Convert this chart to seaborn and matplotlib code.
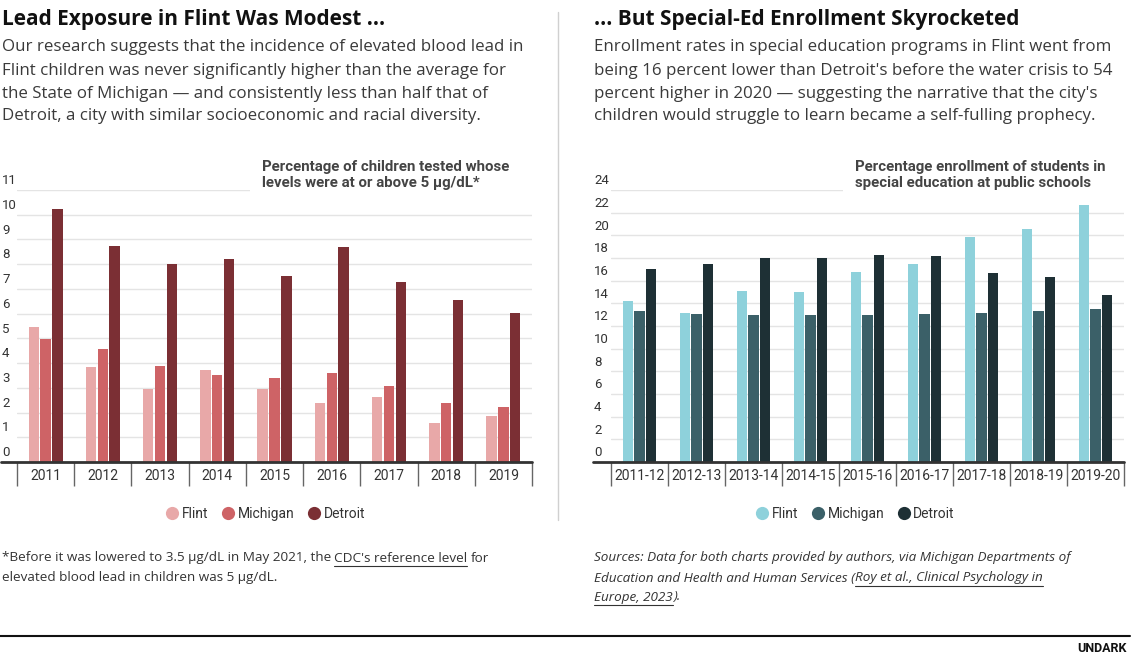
import matplotlib
matplotlib.use("Agg")
import matplotlib.pyplot as plt
import matplotlib.transforms as mtransforms
from matplotlib.lines import Line2D
from matplotlib.patches import Rectangle
import numpy as np
import pandas as pd
import seaborn as sns

# Data
cities = ["Flint", "Michigan", "Detroit"]

lead_years = ["2011", "2012", "2013", "2014", "2015", "2016", "2017", "2018", "2019"]
lead_flint = [5.44, 3.86, 2.96, 3.73, 2.96, 2.37, 2.64, 1.56, 1.87]
lead_michigan = [4.99, 4.59, 3.88, 3.53, 3.41, 3.60, 3.06, 2.38, 2.23]
lead_detroit = [10.23, 8.74, 8.02, 8.21, 7.54, 8.70, 7.28, 6.54, 6.01]

sped_years = ["2011-12", "2012-13", "2013-14", "2014-15", "2015-16",
              "2016-17", "2017-18", "2018-19", "2019-20"]
sped_flint = [14.22, 13.13, 15.10, 15.01, 16.73, 17.43, 19.82, 20.53, 22.71]
sped_michigan = [13.33, 13.04, 12.95, 12.95, 12.95, 13.04, 13.13, 13.33, 13.51]
sped_detroit = [17.02, 17.43, 18.02, 18.02, 18.23, 18.14, 16.64, 16.34, 14.72]

lead_ticks = list(range(0, 12))
sped_ticks = list(range(0, 26, 2))

lead_colors = ["#E8A8A8", "#CE6366", "#7B2F34"]
sped_colors = ["#8ED1DB", "#3B6068", "#1E3035"]

W, H = 1137, 660
CHART_FONT = ["Roboto", "DejaVu Sans"]
TEXT_FONT = ["Open Sans", "DejaVu Sans"]


def long_df(years, flint, michigan, detroit):
    rows = []
    for city, vals in zip(cities, [flint, michigan, detroit]):
        for y, v in zip(years, vals):
            rows.append({"year": y, "city": city, "value": v})
    return pd.DataFrame(rows)


def fx(x):
    return x / W


def fy(y):
    return 1 - y / H


sns.set_theme(style="white")
plt.rcParams["font.family"] = CHART_FONT

fig = plt.figure(figsize=(W / 100, H / 100), dpi=100)
fig.patch.set_facecolor("white")


def draw_panel(left_px, right_px, df, colors, ticks, ymax, label_x, subtitle, sub_x):
    ax = fig.add_axes([fx(left_px), fy(462), fx(right_px - left_px), 272 / H])
    sns.barplot(data=df, x="year", y="value", hue="city", hue_order=cities,
                palette=colors, saturation=1, width=0.62, gap=0.12,
                linewidth=0, legend=False, ax=ax, errorbar=None)
    ax.set_ylim(0, ymax)
    ax.set_xlim(-0.5, 8.5)
    ax.set_xlabel("")
    ax.set_ylabel("")
    for s in ax.spines.values():
        s.set_visible(False)
    ax.set_yticks(ticks)
    ax.set_axisbelow(True)
    ax.yaxis.grid(True, color="#e4e4e4", lw=1)
    ax.tick_params(axis="y", left=False, labelleft=False)
    ax.tick_params(axis="x", length=0, pad=5, labelsize=10, labelcolor="#333333")
    for lab in ax.get_xticklabels():
        lab.set_fontfamily(CHART_FONT)

    # y tick labels sitting above the gridlines
    trans = mtransforms.blended_transform_factory(fig.transFigure, ax.transData)
    trans = trans + mtransforms.ScaledTranslation(0, 2 / 72, fig.dpi_scale_trans)
    for t in ticks:
        ax.text(fx(label_x), t, str(t), transform=trans, ha="left", va="bottom",
                fontsize=9.5, color="#333333", family=CHART_FONT)

    # baseline and category dividers
    ax.axhline(0, xmin=-(left_px - label_x + 1) / (right_px - left_px), xmax=1,
               color="#333333", lw=2, clip_on=False, zorder=5)
    ax.vlines(np.arange(10) - 0.5, -24 / 272, 0, transform=ax.get_xaxis_transform(),
              colors="#666666", lw=1, clip_on=False)

    # white box behind the subtitle cuts the top gridline
    fig.add_artist(Rectangle((fx(sub_x - 12), fy(198)), fx(right_px + 6 - sub_x + 12),
                             44 / H, facecolor="white", edgecolor="none", zorder=2))
    fig.text(fx(sub_x), fy(160), subtitle, ha="left", va="top", fontsize=10.8,
             fontweight="bold", color="#444444", linespacing=1.15, family=CHART_FONT,
             zorder=3)
    return ax


draw_panel(17, 532, long_df(lead_years, lead_flint, lead_michigan, lead_detroit),
           lead_colors, lead_ticks, 11, 2,
           "Percentage of children tested whose\nlevels were at or above 5 \u00b5g/dL*", 262)
draw_panel(611, 1124, long_df(sped_years, sped_flint, sped_michigan, sped_detroit),
           sped_colors, sped_ticks, 24, 594,
           "Percentage enrollment of students in\nspecial education at public schools", 855)

# legends
for colors, cx in [(lead_colors, 265), (sped_colors, 855)]:
    handles = [Line2D([], [], marker="o", ls="", markersize=9.5, color=c, markeredgewidth=0)
               for c in colors]
    fig.legend(handles, cities, loc="center", bbox_to_anchor=(fx(cx), fy(514)), ncol=3,
               frameon=False, handletextpad=0.2, columnspacing=0.9, handlelength=1,
               prop={"family": CHART_FONT, "size": 10},
               labelcolor="#333333")

# titles and intro text
fig.text(fx(2), fy(20), "Lead Exposure in Flint Was Modest ...", ha="left", va="center",
         fontsize=15, fontweight="bold", color="#111111", family=TEXT_FONT)
fig.text(fx(594), fy(20), "... But Special-Ed Enrollment Skyrocketed", ha="left",
         va="center", fontsize=15, fontweight="bold", color="#111111", family=TEXT_FONT)

left_body = [
    "Our research suggests that the incidence of elevated blood lead in",
    "Flint children was never significantly higher than the average for",
    "the State of Michigan \u2014 and consistently less than half that of",
    "Detroit, a city with similar socioeconomic and racial diversity.",
]
right_body = [
    "Enrollment rates in special education programs in Flint went from",
    "being 16 percent lower than Detroit's before the water crisis to 54",
    "percent higher in 2020 \u2014 suggesting the narrative that the city's",
    "children would struggle to learn became a self-fulling prophecy.",
]
for i, (l, r) in enumerate(zip(left_body, right_body)):
    y = [47, 71, 94, 116][i]
    fig.text(fx(2), fy(y), l, ha="left", va="center", fontsize=12.2, color="#3a3a3a",
             family=TEXT_FONT)
    fig.text(fx(594), fy(y), r, ha="left", va="center", fontsize=12.2, color="#3a3a3a",
             family=TEXT_FONT)

# footnotes with underlined link runs
renderer = fig.canvas.get_renderer()


def run(x_px, y_px, s, under=False, style="normal"):
    t = fig.text(fx(x_px), fy(y_px), s, ha="left", va="center", fontsize=9.7,
                 color="#333333", family=TEXT_FONT, style=style)
    bb = t.get_window_extent(renderer)
    if under:
        fig.add_artist(Line2D([bb.x0 / W, bb.x1 / W], [(bb.y0 - 1) / H] * 2,
                              color="#333333", lw=0.8))
    return bb.x1


space = 3
x = run(2, 558, "*Before it was lowered to 3.5 \u00b5g/dL in May 2021, the")
x = run(x + space, 558, "CDC's reference level", True)
run(x + space, 558, "for")
run(2, 578, "elevated blood lead in children was 5 \u00b5g/dL.")

run(594, 558, "Sources: Data for both charts provided by authors, via Michigan Departments of",
    style="italic")
x = run(594, 578, "Education and Health and Human Services (", style="italic")
run(x, 578, "Roy et al., Clinical Psychology in", True, "italic")
x = run(594, 597, "Europe, 2023", True, "italic")
run(x, 597, ").", style="italic")

# divider, bottom rule, brand
fig.add_artist(Line2D([fx(558)] * 2, [fy(12), fy(520)], color="#d0d0d0", lw=1))
fig.add_artist(Line2D([0, fx(1130)], [fy(636)] * 2, color="#111111", lw=1.5))
fig.text(fx(1127), fy(648), "UNDARK", ha="right", va="center", fontsize=9,
         fontweight="bold", color="#111111", family=CHART_FONT)

fig.savefig("out.png", dpi=100, facecolor="white")
